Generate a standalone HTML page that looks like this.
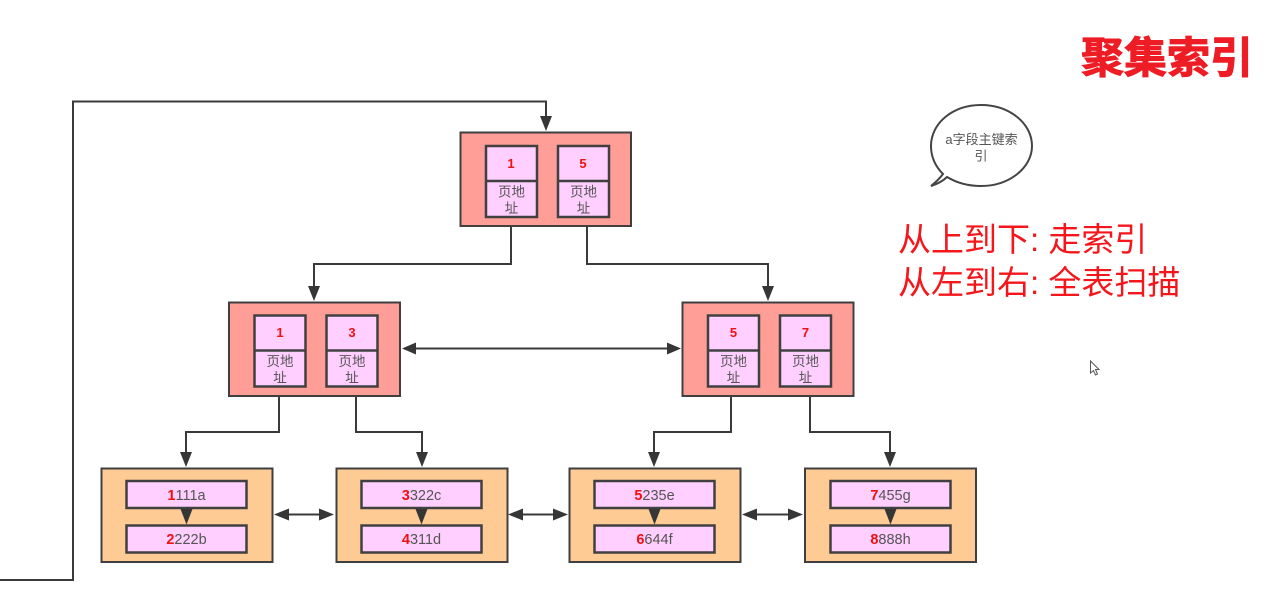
<!DOCTYPE html>
<html lang="zh">
<head>
<meta charset="utf-8">
<style>
html,body{margin:0;padding:0;background:#fff;width:1277px;height:598px;overflow:hidden}
svg{display:block;font-family:"Liberation Sans","Noto Sans CJK SC",sans-serif}
.box{stroke:#3f3f3f;stroke-width:2}
.pink{fill:#ffcfff;stroke:#404040;stroke-width:2.500}
.ln{fill:none;stroke:#3a3a3a;stroke-width:2}
.ah{fill:#363636}
.n{fill:#f01010;font-size:13px;font-weight:bold;text-anchor:middle}
.a{fill:#555;font-size:13.500px;text-anchor:middle}
.l{fill:#555;font-size:14.500px;text-anchor:middle}
.l tspan{fill:#f01010;font-weight:bold}
.r{fill:#f5161b;font-size:33px}
</style>
</head>
<body>
<svg width="1277" height="598" viewBox="0 0 1277 598" xmlns="http://www.w3.org/2000/svg">
<defs>
<g id="pg">
<rect class="pink" x="0" y="0" width="51" height="71"/>
<line class="pink" x1="0" y1="35" x2="51" y2="35"/>
<text class="a" x="25.500" y="50.500">页地</text>
<text class="a" x="25.500" y="67">址</text>
</g>
<polygon id="d" class="ah" points="-6,-15 6,-15 0,0"/>
</defs>

<!-- connectors -->
<path class="ln" d="M0 580H73V101.500H546V120"/>
<path class="ln" d="M511 226V264H314V290"/>
<path class="ln" d="M587 226V264H768V290"/>
<path class="ln" d="M279 396V432H186V456"/>
<path class="ln" d="M356 396V432H422V456"/>
<path class="ln" d="M731 396V432H654V456"/>
<path class="ln" d="M810 396V432H890V456"/>
<use href="#d" x="546" y="131"/>
<use href="#d" x="314" y="301"/>
<use href="#d" x="768" y="301"/>
<use href="#d" x="186" y="467"/>
<use href="#d" x="422" y="467"/>
<use href="#d" x="654" y="467"/>
<use href="#d" x="890" y="467"/>

<!-- top -->
<rect class="box" x="460.500" y="132.500" width="170.500" height="93.500" fill="#ff9e96"/>
<use href="#pg" x="486" y="146"/>
<use href="#pg" x="558" y="146"/>
<text class="n" x="511" y="168">1</text>
<text class="n" x="583" y="168">5</text>

<!-- mid -->
<rect class="box" x="229" y="302.500" width="171" height="93.500" fill="#ff9e96"/>
<use href="#pg" x="254.500" y="315.500"/>
<use href="#pg" x="326.500" y="315.500"/>
<text class="n" x="280" y="337">1</text>
<text class="n" x="352" y="337">3</text>

<rect class="box" x="682.500" y="302.500" width="171" height="93.500" fill="#ff9e96"/>
<use href="#pg" x="708" y="315.500"/>
<use href="#pg" x="780" y="315.500"/>
<text class="n" x="733.500" y="337">5</text>
<text class="n" x="805.500" y="337">7</text>

<!-- leaves -->
<g fill="#ffcb94">
<rect class="box" x="101.500" y="468.500" width="171" height="93.500"/>
<rect class="box" x="336.500" y="468.500" width="171" height="93.500"/>
<rect class="box" x="569.500" y="468.500" width="171" height="93.500"/>
<rect class="box" x="805" y="468.500" width="171" height="93.500"/>
</g>
<g>
<rect class="pink" x="126.500" y="481" width="120" height="27"/>
<rect class="pink" x="126.500" y="525.500" width="120" height="27"/>
<rect class="pink" x="361.500" y="481" width="120" height="27"/>
<rect class="pink" x="361.500" y="525.500" width="120" height="27"/>
<rect class="pink" x="594.500" y="481" width="120" height="27"/>
<rect class="pink" x="594.500" y="525.500" width="120" height="27"/>
<rect class="pink" x="830.500" y="481" width="120" height="27"/>
<rect class="pink" x="830.500" y="525.500" width="120" height="27"/>
</g>
<polygon class="ah" points="180.500,509 192.500,509 186.500,524.500"/>
<polygon class="ah" points="415.500,509 427.500,509 421.500,524.500"/>
<polygon class="ah" points="648.500,509 660.500,509 654.500,524.500"/>
<polygon class="ah" points="884.500,509 896.500,509 890.500,524.500"/>
<text class="l" x="186.500" y="500"><tspan>1</tspan>111a</text>
<text class="l" x="186.500" y="544"><tspan>2</tspan>222b</text>
<text class="l" x="421.500" y="500"><tspan>3</tspan>322c</text>
<text class="l" x="421.500" y="544"><tspan>4</tspan>311d</text>
<text class="l" x="654.500" y="500"><tspan>5</tspan>235e</text>
<text class="l" x="654.500" y="544"><tspan>6</tspan>644f</text>
<text class="l" x="890.500" y="500"><tspan>7</tspan>455g</text>
<text class="l" x="890.500" y="544"><tspan>8</tspan>888h</text>

<!-- horizontal double arrows -->
<path class="ln" d="M412 348.500H671M284 514.500H324M518 514.500H558M752 514.500H793"/>
<g class="ah">
<polygon points="402,348.500 416,342.500 416,354.500"/>
<polygon points="681,348.500 667,342.500 667,354.500"/>
<polygon points="274,514.500 289,508.500 289,520.500"/>
<polygon points="334,514.500 319,508.500 319,520.500"/>
<polygon points="508,514.500 523,508.500 523,520.500"/>
<polygon points="568,514.500 553,508.500 553,520.500"/>
<polygon points="742,514.500 757,508.500 757,520.500"/>
<polygon points="803,514.500 788,508.500 788,520.500"/>
</g>

<!-- speech bubble -->
<path d="M943 174C935 166 931 157 931 146C931 123 953 105 981 105C1009 105 1032 123 1032 146C1032 168 1009 186 981 186C968 186 957 183 947 177C943 181 937 184 931 186C936 182 940 178 943 174Z" fill="#fff" stroke="#444" stroke-width="2"/>
<text x="981.500" y="144" font-size="13" fill="#555" text-anchor="middle">a字段主键索</text>
<text x="981" y="160.500" font-size="13" fill="#555" text-anchor="middle">引</text>

<!-- annotations -->
<text class="r" x="898" y="251">从上到下: 走索引</text>
<text class="r" x="898" y="294">从左到右: 全表扫描</text>
<text x="1081" y="73" font-size="43" font-weight="bold" fill="#ee1c25" stroke="#ee1c25" stroke-width="1">聚集索引</text>

<!-- cursor -->
<path d="M1090.500 361V373L1093.500 370.500L1095.500 375L1097.500 374L1095.500 369.500H1099Z" fill="#fff" stroke="#555" stroke-width="1"/>
</svg>
</body>
</html>
